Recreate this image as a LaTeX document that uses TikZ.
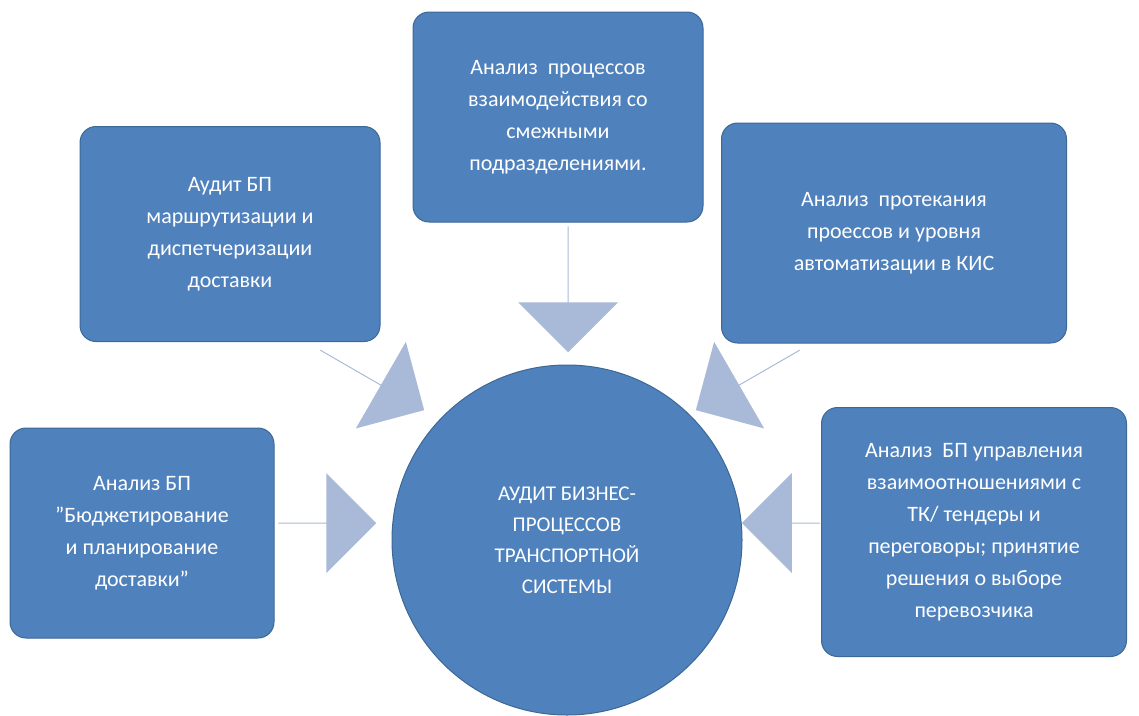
\documentclass[tikz,border=0pt]{standalone}
\usepackage{fontspec}
\setmainfont{Carlito}
\usetikzlibrary{positioning}
\usetikzlibrary{shapes.arrows}
\definecolor{blu}{HTML}{4F81BD}
\definecolor{bordo}{HTML}{3C6896}
\definecolor{freccia}{HTML}{A9B9D8}
\begin{document}
\begin{tikzpicture}[x=1pt,y=-1pt,
blocco/.style={draw=bordo,line width=1pt,fill=blu,rounded corners=16pt,text=white,align=center,font=\fontsize{22}{32}\selectfont,inner sep=0pt},
cerchio/.style={draw=bordo,line width=1pt,fill=blu,circle,minimum size=350pt,text=white,align=center,font=\fontsize{21}{31}\selectfont},
freccia/.style={single arrow,fill=freccia,draw=none,minimum width=100pt,single arrow head extend=20pt,single arrow tip angle=90,inner sep=0pt}
]
\useasboundingbox (0,0) rectangle (1139,715);
\node[cerchio](centro) at (567,540){АУДИТ БИЗНЕС-\\ПРОЦЕССОВ\\ТРАНСПОРТНОЙ\\СИСТЕМЫ};
%--
\node[blocco,minimum width=290pt,minimum height=210pt](alto) at (558,117){Анализ \ процессов\\взаимодействия со\\смежными\\подразделениями.};
\node[blocco,minimum width=300pt,minimum height=215pt](sinA) at (230,234){Аудит БП\\маршрутизации и\\диспетчеризации\\доставки};
\node[blocco,minimum width=345pt,minimum height=220pt](desA) at (894,233){Анализ \ протекания\\проессов и уровня\\автоматизации в КИС};
\node[blocco,minimum width=264pt,minimum height=210pt](sinB) at (142,533){Анализ БП\\"Бюджетирование\\и планирование\\доставки"};
\node[blocco,minimum width=305pt,minimum height=249pt](desB) at (974,532){Анализ \ БП управления\\взаимоотношениями с\\ТК/ тендеры и\\переговоры; принятие\\решения о выборе\\перевозчика};
%--
\node[freccia,minimum height=126pt,rotate=-90](f1) at (568,289){};
\node[freccia,minimum height=120pt,rotate=-30](f2) at (372,380){};
\node[freccia,minimum height=120pt,rotate=-150](f3) at (748,380){};
\node[freccia,minimum height=98pt](f4) at (327,523){};
\node[freccia,minimum height=78pt,rotate=180](f5) at (781,523){};
\end{tikzpicture}
\end{document}
